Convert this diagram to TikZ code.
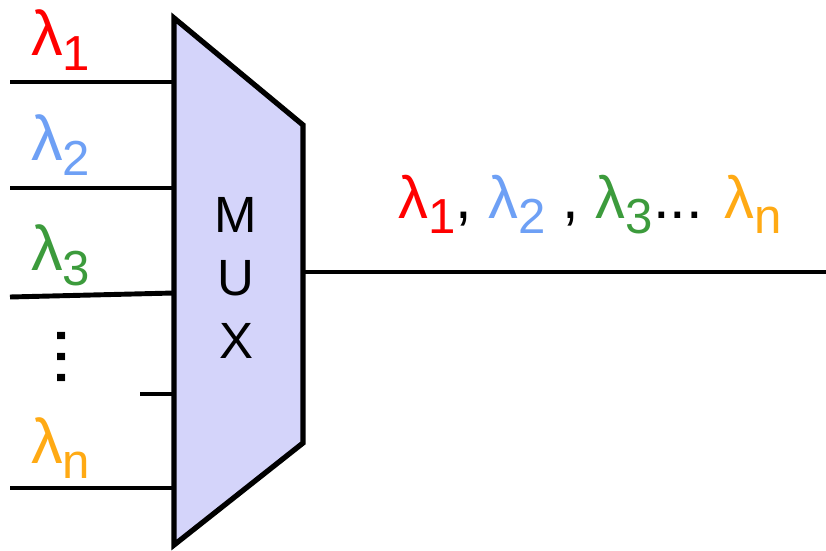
\documentclass[tikz,border=0pt]{standalone}
\usepackage{fontspec}
\setmainfont{Liberation Sans}
\definecolor{lamred}{RGB}{255,0,0}
\definecolor{lamblue}{RGB}{110,160,245}
\definecolor{lamgreen}{RGB}{60,155,60}
\definecolor{lamorange}{RGB}{255,170,20}
\definecolor{muxfill}{RGB}{212,212,250}
\newcommand{\lam}[2]{\textcolor{#1}{λ\raisebox{-9pt}{\fontsize{28}{28}\selectfont #2}}}

\begin{document}
\begin{tikzpicture}[x=0.02cm, y=-0.02cm,
  wire/.style={line width=2.8pt},
  lbl/.style={anchor=base west, inner sep=0pt, font=\fontsize{36}{36}\selectfont}]
  \useasboundingbox (0,0) rectangle (826,551);

  % multiplexer body
  \coordinate (tl) at (174,18);
  \coordinate (tr) at (303,125);
  \coordinate (br) at (303,443);
  \coordinate (bl) at (174,545);
  \draw[line width=3pt, fill=muxfill] (tl) -- (tr) -- (br) -- (bl) -- cycle;
  \node[inner sep=0pt, align=center, font=\fontsize{29}{35.7}\selectfont] (mux) at (236,278) {M\\U\\X};

  % input fibres
  \coordinate (w1) at (10,82);   \coordinate (m1) at (174,82);
  \coordinate (w2) at (10,188);  \coordinate (m2) at (174,188);
  \coordinate (w3) at (10,297);  \coordinate (m3) at (174,293);
  \coordinate (w4) at (140,394); \coordinate (m4) at (174,394);
  \coordinate (w5) at (10,488);  \coordinate (m5) at (174,488);
  \draw[wire] (w1) -- (m1);
  \draw[wire] (w2) -- (m2);
  \draw[wire] (w3) -- (m3);
  \draw[wire] (w4) -- (m4);
  \draw[wire] (w5) -- (m5);

  \node[lbl] (l1) at (31,55) {\lam{lamred}{1}};
  \node[lbl] (l2) at (31,160) {\lam{lamblue}{2}};
  \node[lbl] (l3) at (31,270) {\lam{lamgreen}{3}};
  \node[lbl] (ln) at (31,463) {\lam{lamorange}{n}};
  \node[inner sep=0pt, font=\fontsize{43}{43}\selectfont] (vdots) at (62,357) {\rotatebox{-90}{...}};

  % output fibre
  \coordinate (o) at (303,272);
  \coordinate (oe) at (826,272);
  \draw[wire] (o) -- (oe);
  \node[lbl, font=\fontsize{34}{34}\selectfont] (out) at (398,218) {\lam{lamred}{1}, \lam{lamblue}{2} , \lam{lamgreen}{3}... \lam{lamorange}{n}};
\end{tikzpicture}
\end{document}
